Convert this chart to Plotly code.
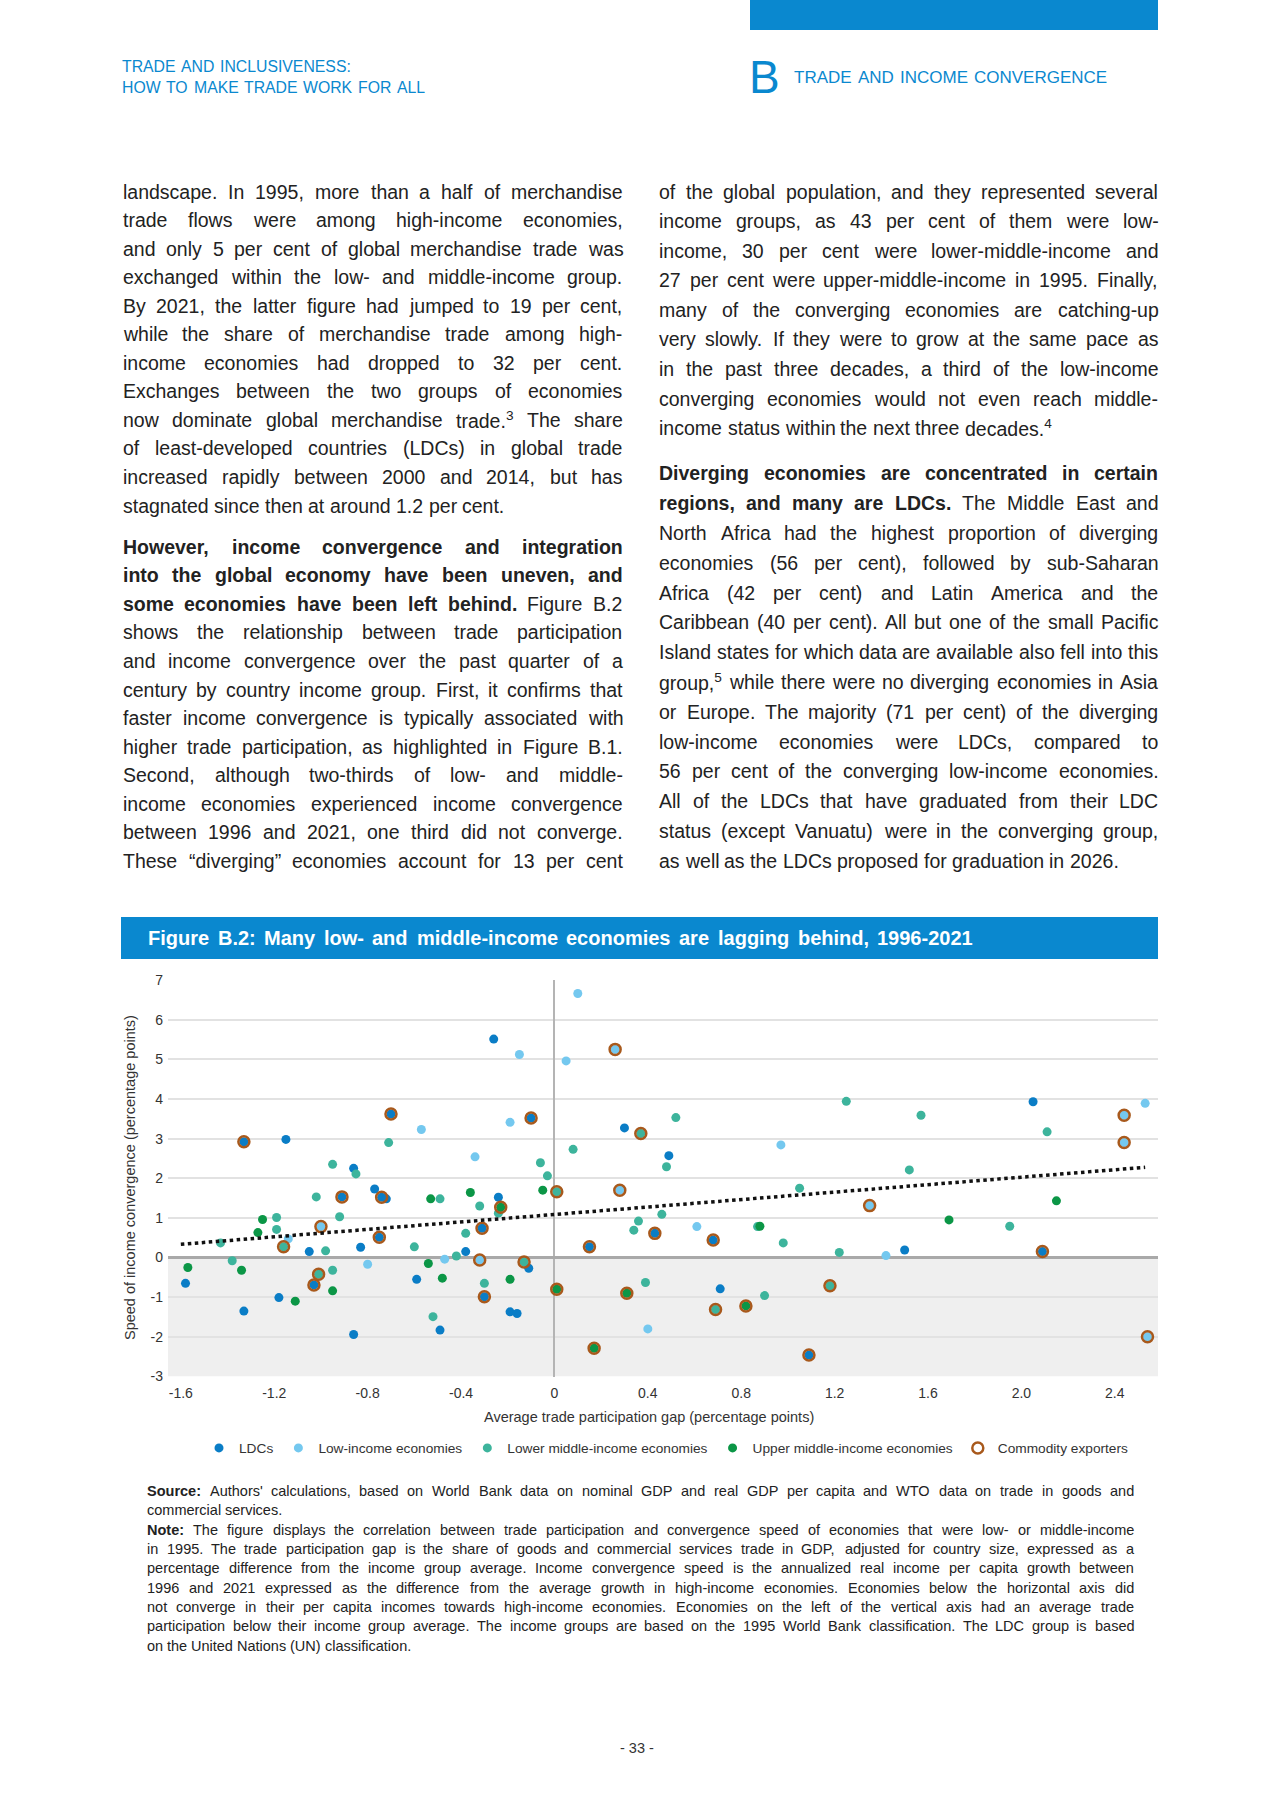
import plotly.graph_objects as go

W, H = 1280, 1809
FONT = "Liberation Sans, Arial, sans-serif"
BLUE = "#0a88cf"
TXT = "#222222"

# ---------------- chart data ----------------
ldc_x = [-1.33, -1.15, -0.86, -0.70, -0.26, -0.10, -0.91, -0.77, -0.74, -0.72, -0.24, -0.31, -0.75,
         -1.05, -0.83, -0.38, -0.11, -1.58, -1.03, -1.18, -1.33, -0.86, -0.59, -0.49, -0.30, -0.19,
         -0.16, 0.30, 0.49, 0.43, 0.68, 0.15, 1.50, 0.71, 1.09, 2.05, 2.09]
ldc_y = [2.92, 2.98, 2.25, 3.62, 5.51, 3.52, 1.53, 1.73, 1.52, 1.48, 1.52, 0.74, 0.51,
         0.15, 0.26, 0.15, -0.27, -0.65, -0.69, -1.01, -1.35, -1.94, -0.55, -1.83, -0.99, -1.37,
         -1.41, 3.27, 2.57, 0.61, 0.44, 0.27, 0.19, -0.79, -2.46, 3.93, 0.15]

low_x = [-0.57, -0.15, -0.19, -0.34, 0.05, -1.00, -1.14, -0.47, -0.32, -0.80, 0.10, 0.26,
         0.97, 0.28, 1.35, 0.61, 1.42, 0.40, 2.53, 2.44, 2.44, 2.54]
low_y = [3.23, 5.12, 3.41, 2.54, 4.96, 0.78, 0.47, -0.04, -0.06, -0.17, 6.66, 5.25,
         2.84, 1.70, 1.31, 0.78, 0.05, -1.80, 3.89, 3.59, 2.90, -2.00]

lmi_x = [-0.95, -0.85, -0.71, -0.06, -0.03, 0.01, -1.02, -0.49, -0.32, -0.24, -1.19, -0.92,
         -1.19, -0.38, -1.43, -1.16, -0.98, -0.60, -0.42, -0.13, -1.38, -1.01, -0.95, -0.52,
         -0.30, 0.37, 0.52, 0.08, 0.48, 1.25, 1.52, 1.57, 1.05, 0.36, 0.34, 0.46, 0.87, 0.98,
         1.22, 0.39, 0.69, 0.90, 1.18, 2.11, 1.95]
lmi_y = [2.35, 2.11, 2.90, 2.39, 2.06, 1.66, 1.53, 1.48, 1.30, 1.12, 1.01, 1.03,
         0.71, 0.61, 0.37, 0.27, 0.17, 0.27, 0.04, -0.11, -0.08, -0.42, -0.32, -1.49,
         -0.65, 3.13, 3.53, 2.73, 2.29, 3.94, 2.21, 3.59, 1.75, 0.92, 0.69, 1.09, 0.78, 0.37,
         0.13, -0.63, -1.31, -0.96, -0.71, 3.17, 0.79]

umi_x = [-0.05, -0.23, -0.53, -0.36, -1.25, -1.27, -1.57, -1.34, -0.95, -1.11, -0.54, -0.48,
         -0.19, 0.01, 0.88, 0.31, 0.82, 0.17, 2.15, 1.69]
umi_y = [1.70, 1.27, 1.48, 1.64, 0.96, 0.63, -0.25, -0.32, -0.84, -1.10, -0.15, -0.52,
         -0.55, -0.80, 0.79, -0.90, -1.22, -2.29, 1.43, 0.95]

com_x = [-1.33, -0.70, -0.10, -0.91, -0.74, -0.31, -0.75, -1.03, -0.30, 0.43, 0.68, 0.15, 1.09,
         2.09, -1.00, -0.32, 0.26, 0.28, 1.35, 2.44, 2.44, 2.54, 0.01, -1.16, -0.13, -1.01,
         0.37, 0.69, 1.18, -0.23, 0.01, 0.31, 0.82, 0.17]
com_y = [2.92, 3.62, 3.52, 1.53, 1.52, 0.74, 0.51, -0.69, -0.99, 0.61, 0.44, 0.27, -2.46,
         0.15, 0.78, -0.06, 5.25, 1.70, 1.31, 3.59, 2.90, -2.00, 1.66, 0.27, -0.11, -0.42,
         3.13, -1.31, -0.71, 1.27, -0.80, -0.90, -1.22, -2.29]

trend_x = [-1.60, 2.53]
trend_y = [0.334, 2.276]

x_tickvals = [-1.6, -1.2, -0.8, -0.4, 0, 0.4, 0.8, 1.2, 1.6, 2.0, 2.4]
x_ticktext = ["-1.6", "-1.2", "-0.8", "-0.4", "0", "0.4", "0.8", "1.2", "1.6", "2.0", "2.4"]
y_tickvals = [-3, -2, -1, 0, 1, 2, 3, 4, 5, 6, 7]
y_ticktext = ["-3", "-2", "-1", "0", "1", "2", "3", "4", "5", "6", "7"]

series_names = ["LDCs", "Low-income economies", "Lower middle-income economies",
                "Upper middle-income economies", "Commodity exporters"]
series_colors = ["#0a7dc6", "#74c8ef", "#3db49c", "#0b9646", "#a8591c"]

# ---------------- page text ----------------
header_left = ["TRADE AND INCLUSIVENESS:", "HOW TO MAKE TRADE WORK FOR ALL"]
header_right = "TRADE AND INCOME CONVERGENCE"
chart_title = "Figure B.2: Many low- and middle-income economies are lagging behind, 1996-2021"
x_title = "Average trade participation gap (percentage points)"
y_title = "Speed of income convergence (percentage points)"

left_p1 = [
    "landscape. In 1995, more than a half of merchandise",
    "trade flows were among high-income economies,",
    "and only 5 per cent of global merchandise trade was",
    "exchanged within the low- and middle-income group.",
    "By 2021, the latter figure had jumped to 19 per cent,",
    "while the share of merchandise trade among high-",
    "income economies had dropped to 32 per cent.",
    "Exchanges between the two groups of economies",
    "now dominate global merchandise trade.^3 The share",
    "of least-developed countries (LDCs) in global trade",
    "increased rapidly between 2000 and 2014, but has",
    "stagnated since then at around 1.2 per cent.",
]
left_p2 = [
    "**However, income convergence and integration**",
    "**into the global economy have been uneven, and**",
    "**some economies have been left behind.** Figure B.2",
    "shows the relationship between trade participation",
    "and income convergence over the past quarter of a",
    "century by country income group. First, it confirms that",
    "faster income convergence is typically associated with",
    "higher trade participation, as highlighted in Figure B.1.",
    "Second, although two-thirds of low- and middle-",
    "income economies experienced income convergence",
    "between 1996 and 2021, one third did not converge.",
    "These \u201cdiverging\u201d economies account for 13 per cent",
]
right_p1 = [
    "of the global population, and they represented several",
    "income groups, as 43 per cent of them were low-",
    "income, 30 per cent were lower-middle-income and",
    "27 per cent were upper-middle-income in 1995. Finally,",
    "many of the converging economies are catching-up",
    "very slowly. If they were to grow at the same pace as",
    "in the past three decades, a third of the low-income",
    "converging economies would not even reach middle-",
    "income status within the next three decades.^4",
]
right_p2 = [
    "**Diverging economies are concentrated in certain**",
    "**regions, and many are LDCs.** The Middle East and",
    "North Africa had the highest proportion of diverging",
    "economies (56 per cent), followed by sub-Saharan",
    "Africa (42 per cent) and Latin America and the",
    "Caribbean (40 per cent). All but one of the small Pacific",
    "Island states for which data are available also fell into this",
    "group,^5 while there were no diverging economies in Asia",
    "or Europe. The majority (71 per cent) of the diverging",
    "low-income economies were LDCs, compared to",
    "56 per cent of the converging low-income economies.",
    "All of the LDCs that have graduated from their LDC",
    "status (except Vanuatu) were in the converging group,",
    "as well as the LDCs proposed for graduation in 2026.",
]
notes = [
    "**Source:** Authors' calculations, based on World Bank data on nominal GDP and real GDP per capita and WTO data on trade in goods and",
    "commercial services.",
    "**Note:** The figure displays the correlation between trade participation and convergence speed of economies that were low- or middle-income",
    "in 1995. The trade participation gap is the share of goods and commercial services trade in GDP, adjusted for country size, expressed as a",
    "percentage difference from the income group average. Income convergence speed is the annualized real income per capita growth between",
    "1996 and 2021 expressed as the difference from the average growth in high-income economies. Economies below the horizontal axis did",
    "not converge in their per capita incomes towards high-income economies. Economies on the left of the vertical axis had an average trade",
    "participation below their income group average. The income groups are based on the 1995 World Bank classification. The LDC group is based",
    "on the United Nations (UN) classification.",
]
notes_justify = [True, False, True, True, True, True, True, True, False]

# ---------------- font metrics (Arial / Liberation Sans, units per 1000) ----------------
REG = {' ': 278, '!': 278, '"': 355, "'": 191, '(': 333, ')': 333, ',': 278, '-': 333, '.': 278,
       '/': 278, ':': 278, ';': 278, '?': 556, '%': 889, '\u201c': 333, '\u201d': 333, '\u2019': 222,
       'A': 667, 'B': 667, 'C': 722, 'D': 722, 'E': 667, 'F': 611, 'G': 778, 'H': 722, 'I': 278,
       'J': 500, 'K': 667, 'L': 556, 'M': 833, 'N': 722, 'O': 778, 'P': 667, 'Q': 778, 'R': 722,
       'S': 667, 'T': 611, 'U': 722, 'V': 667, 'W': 944, 'X': 667, 'Y': 667, 'Z': 611,
       'a': 556, 'b': 556, 'c': 500, 'd': 556, 'e': 556, 'f': 278, 'g': 556, 'h': 556, 'i': 222,
       'j': 222, 'k': 500, 'l': 222, 'm': 833, 'n': 556, 'o': 556, 'p': 556, 'q': 556, 'r': 333,
       's': 500, 't': 278, 'u': 556, 'v': 500, 'w': 722, 'x': 500, 'y': 500, 'z': 500}
BOLD = {' ': 278, '"': 474, "'": 238, '(': 333, ')': 333, ',': 278, '-': 333, '.': 278, ':': 333,
        ';': 333, '\u201c': 500, '\u201d': 500,
        'A': 722, 'B': 722, 'C': 722, 'D': 722, 'E': 667, 'F': 611, 'G': 778, 'H': 722, 'I': 278,
        'J': 556, 'K': 722, 'L': 611, 'M': 833, 'N': 722, 'O': 778, 'P': 667, 'Q': 778, 'R': 722,
        'S': 667, 'T': 611, 'U': 722, 'V': 667, 'W': 944, 'X': 667, 'Y': 667, 'Z': 611,
        'a': 556, 'b': 611, 'c': 556, 'd': 611, 'e': 556, 'f': 333, 'g': 611, 'h': 611, 'i': 278,
        'j': 278, 'k': 556, 'l': 278, 'm': 889, 'n': 611, 'o': 611, 'p': 611, 'q': 611, 'r': 389,
        's': 556, 't': 333, 'u': 611, 'v': 556, 'w': 778, 'x': 556, 'y': 556, 'z': 500}


def X(px):
    return px / W


def Y(py):
    return 1 - py / H


annotations = []


def add_text(x_px, y_px, text, size, color=TXT, anchor="left", angle=0):
    annotations.append(dict(
        x=X(x_px), y=Y(y_px), xref="paper", yref="paper", text=text, showarrow=False,
        xanchor=anchor, yanchor="middle", borderpad=0, textangle=angle,
        font=dict(size=size, color=color, family=FONT)))


def parse_words(line, all_bold=False):
    parts = line.split("**")
    words = []
    for i, part in enumerate(parts):
        bold = all_bold or (i % 2 == 1)
        for w in part.split():
            words.append((w, bold))
    return words


def word_width(w, bold, size):
    tab = BOLD if bold else REG
    sup = ""
    if "^" in w:
        w, sup = w.split("^")
    u = sum(tab.get(c, 556) for c in w) + 0.7 * sum(tab.get(c, 556) for c in sup)
    return u * size / 1000.0


def word_html(w, bold):
    if "^" in w:
        b, s = w.split("^")
        t = b + "<sup>" + s + "</sup>"
    else:
        t = w
    return "<b>" + t + "</b>" if bold else t


def place_line(line, x0, width, y, size, color=TXT, justify=True, all_bold=False):
    words = parse_words(line, all_bold)
    widths = [word_width(w, b, size) for w, b in words]
    space = 278 * size / 1000.0
    if justify and len(words) > 1:
        gap = (width - sum(widths)) / (len(words) - 1)
        gap = max(gap, space * 0.6)
    else:
        gap = space
    x = x0
    for (w, b), ww in zip(words, widths):
        add_text(x, y, word_html(w, b), size, color)
        x += ww + gap


def place_block(lines, x0, width, y0, lh, size, last_justified=False, justify_flags=None):
    for i, line in enumerate(lines):
        if justify_flags is not None:
            j = justify_flags[i]
        else:
            j = (i < len(lines) - 1) or last_justified
        place_line(line, x0, width, y0 + i * lh, size, justify=j)


# ---------------- figure ----------------
fig = go.Figure()

group_x = [ldc_x, low_x, lmi_x, umi_x]
group_y = [ldc_y, low_y, lmi_y, umi_y]
for gx, gy, name, col in zip(group_x, group_y, series_names[:4], series_colors[:4]):
    fig.add_trace(go.Scatter(x=gx, y=gy, mode="markers", name=name,
                             marker=dict(size=9, color=col, line=dict(width=0))))

fig.add_trace(go.Scatter(x=com_x, y=com_y, mode="markers", name=series_names[4],
                         marker=dict(symbol="circle-open", size=11, color=series_colors[4],
                                     line=dict(width=2.5, color=series_colors[4]))))

fig.add_trace(go.Scatter(x=trend_x, y=trend_y, mode="lines", showlegend=False, hoverinfo="skip",
                         line=dict(color="#111111", width=3.5, dash="dot")))

shapes = [
    # top blue tab
    dict(type="rect", xref="paper", yref="paper", x0=X(750), x1=X(1158), y0=Y(30), y1=Y(0),
         fillcolor=BLUE, line=dict(width=0), layer="below"),
    # figure title bar
    dict(type="rect", xref="paper", yref="paper", x0=X(121), x1=X(1158), y0=Y(959), y1=Y(917),
         fillcolor=BLUE, line=dict(width=0), layer="below"),
    # diverging (negative) region shading
    dict(type="rect", xref="x domain", yref="y", x0=0, x1=1, y0=-3, y1=0,
         fillcolor="#efefef", line=dict(width=0), layer="below"),
]

# header
place_line(header_left[0], 121, 229, 66.5, 15.8, color=BLUE)
place_line(header_left[1], 121, 303, 87, 15.8, color=BLUE)
add_text(748, 77, "B", 46, color=BLUE)
place_line(header_right, 793, 313, 77.5, 17, color=BLUE)

# body text
BODY = 19.5
place_block(left_p1, 122, 499.5, 191.5, 28.55, BODY)
place_block(left_p2, 122, 499.5, 546.5, 28.6, BODY, last_justified=True)
place_block(right_p1, 658.3, 499.0, 191.5, 29.6, BODY, last_justified=False)
place_block(right_p2, 658.3, 499.0, 473.3, 29.8, BODY)

# chart title
place_line(chart_title, 147, 825, 938, 20, color="white", all_bold=True)

# axis titles
add_text(649, 1416.5, x_title, 14.5, color="#333333", anchor="center")
add_text(130, 1178, y_title, 14.5, color="#333333", anchor="center", angle=-90)

# notes
place_block(notes, 146, 987, 1491, 19.34, 14.5, justify_flags=notes_justify)

# page number
add_text(637, 1748, "- 33 -", 14.5, color="#333333", anchor="center")

fig.update_layout(
    width=W, height=H, autosize=False,
    margin=dict(l=0, r=0, t=0, b=0, pad=0, autoexpand=False),
    paper_bgcolor="white", plot_bgcolor="white",
    font=dict(family=FONT, color="#333333"),
    showlegend=True,
    legend=dict(orientation="h", x=X(666.5), xanchor="center", y=Y(1448), yanchor="middle",
                font=dict(size=13.7, color="#333333", family=FONT), bgcolor="rgba(0,0,0,0)",
                traceorder="normal"),
    xaxis=dict(domain=[X(168), X(1158)], range=[-1.655, 2.585], tickmode="array",
               tickvals=x_tickvals, ticktext=x_ticktext, showgrid=False, zeroline=True,
               zerolinecolor="#b4b4b4", zerolinewidth=2, showline=False, ticks="",
               tickfont=dict(size=14, color="#333333", family=FONT), ticklabelstandoff=6,
               fixedrange=True),
    yaxis=dict(domain=[Y(1376.5), Y(980)], range=[-3, 7], tickmode="array",
               tickvals=y_tickvals, ticktext=y_ticktext, showgrid=True, gridcolor="#e2e2e2",
               gridwidth=1.5, zeroline=True, zerolinecolor="#a9a9a9", zerolinewidth=2.5,
               showline=False, ticks="", tickfont=dict(size=14, color="#333333", family=FONT),
               ticklabelstandoff=4, fixedrange=True),
    shapes=shapes,
    annotations=annotations,
)

fig.write_html("out.html", config={"displayModeBar": False},
               post_script="document.body.style.margin='0';")
